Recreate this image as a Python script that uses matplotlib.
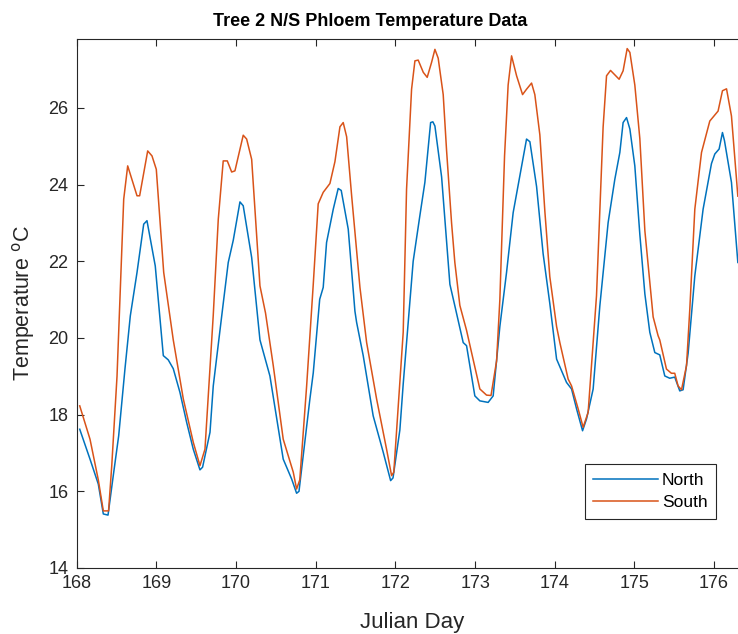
import matplotlib
matplotlib.use("Agg")
import matplotlib.pyplot as plt

plt.rcParams['font.family'] = ['Liberation Sans', 'DejaVu Sans']

north_day = [168.038, 168.167, 168.271, 168.334, 168.393, 168.459, 168.527, 168.606, 168.673, 168.757,
             168.841, 168.882, 168.986, 169.087, 169.149, 169.212, 169.296, 169.38, 169.463, 169.547,
             169.58, 169.673, 169.714, 169.839, 169.902, 169.965, 170.049, 170.09, 170.196, 170.30,
             170.425, 170.592, 170.698, 170.76, 170.79, 170.927, 170.969, 171.05, 171.094, 171.136,
             171.22, 171.282, 171.32, 171.408, 171.492, 171.513, 171.596, 171.721, 171.847, 171.94,
             171.97, 172.056, 172.098, 172.223, 172.307, 172.37, 172.442, 172.47, 172.496, 172.58,
             172.684, 172.746, 172.851, 172.893, 172.997, 173.06, 173.164, 173.227, 173.311, 173.395,
             173.478, 173.562, 173.646, 173.688, 173.772, 173.854, 173.938, 174.023, 174.148, 174.211,
             174.274, 174.349, 174.399, 174.482, 174.566, 174.67, 174.754, 174.817, 174.858, 174.901,
             174.943, 175.005, 175.068, 175.131, 175.193, 175.256, 175.318, 175.381, 175.443, 175.506,
             175.569, 175.611, 175.674, 175.758, 175.862, 175.967, 176.009, 176.063, 176.105, 176.13,
             176.218, 176.298]
north_temp = [17.62, 16.84, 16.19, 15.41, 15.38, 16.41, 17.45, 19.2, 20.58, 21.71,
              22.97, 23.06, 21.88, 19.54, 19.43, 19.2, 18.58, 17.8, 17.1, 16.56,
              16.63, 17.54, 18.75, 20.9, 21.97, 22.55, 23.55, 23.45, 22.1, 19.95,
              19.01, 16.84, 16.32, 15.95, 16.0, 18.41, 19.09, 21.01, 21.32, 22.49,
              23.36, 23.9, 23.85, 22.84, 20.7, 20.41, 19.54, 17.97, 17.02, 16.28,
              16.35, 17.6, 18.8, 22.0, 23.19, 24.06, 25.62, 25.64, 25.53, 24.2,
              21.4, 20.84, 19.88, 19.8, 18.49, 18.36, 18.32, 18.49, 20.3, 21.71,
              23.27, 24.23, 25.19, 25.12, 23.95, 22.2, 20.9, 19.45, 18.84, 18.67,
              18.15, 17.58, 17.89, 18.67, 20.84, 23.01, 24.14, 24.84, 25.62, 25.75,
              25.45, 24.49, 22.7, 21.15, 20.15, 19.62, 19.56, 19.01, 18.95, 18.98,
              18.62, 18.65, 19.6, 21.62, 23.36, 24.55, 24.8, 24.93, 25.36, 25.15,
              24.06, 21.97]

south_day = [168.038, 168.167, 168.271, 168.334, 168.40, 168.44, 168.506, 168.59, 168.64, 168.757,
             168.79, 168.891, 168.945, 168.999, 169.092, 169.212, 169.338, 169.463, 169.547, 169.61,
             169.714, 169.777, 169.839, 169.89, 169.945, 169.986, 170.09, 170.133, 170.196, 170.30,
             170.37, 170.467, 170.592, 170.718, 170.76, 170.80, 170.886, 170.969, 171.031, 171.094,
             171.178, 171.241, 171.304, 171.345, 171.388, 171.45, 171.555, 171.639, 171.764, 171.889,
             171.952, 171.98, 172.098, 172.14, 172.203, 172.245, 172.286, 172.35, 172.399, 172.454,
             172.496, 172.537, 172.60, 172.642, 172.705, 172.746, 172.809, 172.893, 172.956, 173.06,
             173.144, 173.2, 173.27, 173.311, 173.37, 173.415, 173.458, 173.521, 173.596, 173.646,
             173.709, 173.75, 173.813, 173.876, 173.938, 174.023, 174.064, 174.168, 174.211, 174.294,
             174.356, 174.419, 174.524, 174.607, 174.65, 174.70, 174.808, 174.858, 174.909, 174.943,
             175.005, 175.068, 175.131, 175.235, 175.297, 175.318, 175.402, 175.464, 175.506, 175.548,
             175.591, 175.654, 175.695, 175.758, 175.842, 175.946, 176.05, 176.105, 176.156, 176.218,
             176.298]
south_temp = [18.23, 17.36, 16.3, 15.49, 15.49, 16.67, 19.0, 23.62, 24.49, 23.71,
              23.71, 24.88, 24.75, 24.4, 21.71, 19.95, 18.41, 17.28, 16.67, 17.1,
              20.6, 23.1, 24.62, 24.62, 24.33, 24.36, 25.29, 25.19, 24.66, 21.36,
              20.65, 19.28, 17.36, 16.5, 16.06, 16.3, 18.75, 21.4, 23.5, 23.8,
              24.03, 24.6, 25.51, 25.62, 25.25, 23.73, 21.32, 19.88, 18.41, 17.1,
              16.41, 16.5, 20.15, 23.88, 26.49, 27.23, 27.25, 26.93, 26.8, 27.19,
              27.53, 27.3, 26.35, 24.9, 23.0, 21.97, 20.85, 20.2, 19.62, 18.67,
              18.51, 18.5, 19.4, 21.0, 24.75, 26.6, 27.36, 26.84, 26.35, 26.49,
              26.65, 26.35, 25.3, 23.3, 21.6, 20.3, 19.88, 18.93, 18.75, 18.15,
              17.67, 18.06, 21.1, 25.5, 26.84, 26.98, 26.75, 26.97, 27.55, 27.45,
              26.6, 25.2, 22.8, 20.55, 20.06, 19.95, 19.19, 19.08, 19.08, 18.75,
              18.65, 19.28, 20.75, 23.36, 24.84, 25.66, 25.92, 26.45, 26.5, 25.79,
              23.7]

x_ticks = [168, 169, 170, 171, 172, 173, 174, 175, 176]
y_ticks = [14, 16, 18, 20, 22, 24, 26]

W, H = 738, 634
fig = plt.figure(figsize=(W / 100, H / 100), dpi=100)
ax_left, ax_right, ax_top, ax_bottom = 76.7, 738.0, 39.0, 568.0
ax = fig.add_axes([ax_left / W, 1 - ax_bottom / H, (ax_right - ax_left) / W, (ax_bottom - ax_top) / H])

ax.plot(north_day, north_temp, color='#0072BD', lw=1.1, label='North')
ax.plot(south_day, south_temp, color='#D95319', lw=1.1, label='South')

ax.set_xlim(168, 176.3)
ax.set_ylim(14, 27.8)
ax.set_xticks(x_ticks)
ax.set_yticks(y_ticks)
ax.tick_params(direction='in', length=5, width=0.8, colors='#262626', labelsize=13,
               top=True, right=False)
ax.tick_params(axis='x', pad=5)
ax.tick_params(axis='y', pad=6)
for s in ['left', 'top', 'bottom']:
    ax.spines[s].set_color('#262626')
    ax.spines[s].set_linewidth(0.8)
ax.spines['right'].set_visible(False)

ax.set_xlabel('Julian Day', fontsize=16, color='#262626', labelpad=8)
ax.xaxis.set_label_coords(0.507, -0.084)
ax.set_ylabel('Temperature $^{\\mathrm{o}}$C', fontsize=15.5, color='#262626', labelpad=8)
ax.set_title('Tree 2 N/S Phloem Temperature Data', fontsize=13, fontweight='bold', pad=9,
             x=(370 - ax_left) / (ax_right - ax_left))

leg = ax.legend(loc='lower right', bbox_to_anchor=(0.967, 0.093), fontsize=12.5, fancybox=False,
                edgecolor='#262626', framealpha=1, handlelength=3.7, handletextpad=0.25,
                borderpad=0.5, labelspacing=0.4, borderaxespad=0)
leg.get_frame().set_linewidth(0.8)

fig.savefig('out.png', dpi=100)
